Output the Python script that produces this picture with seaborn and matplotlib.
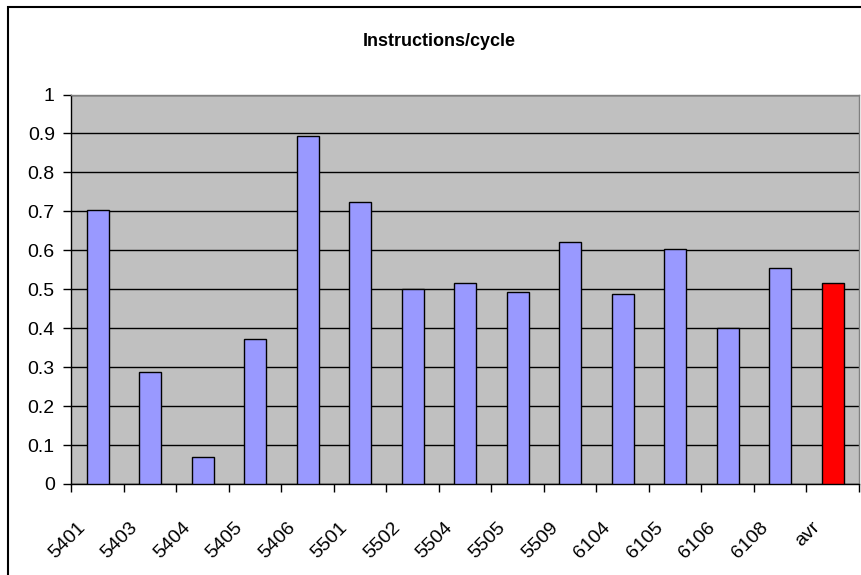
import matplotlib
matplotlib.use("Agg")
import matplotlib.pyplot as plt
import matplotlib.transforms as mtransforms
import seaborn as sns
import pandas as pd
from matplotlib.patches import Rectangle

# %%
benchmarks = ["5401", "5403", "5404", "5405", "5406", "5501", "5502", "5504",
              "5505", "5509", "6104", "6105", "6106", "6108", "avr"]
ipc = [0.704, 0.287, 0.069, 0.373, 0.894, 0.724, 0.501, 0.516,
       0.493, 0.621, 0.489, 0.604, 0.400, 0.555, 0.516]
bar_colors = ["#9999FF"] * 14 + ["#FF0000"]
y_ticks = [0, 0.1, 0.2, 0.3, 0.4, 0.5, 0.6, 0.7, 0.8, 0.9, 1]
y_labels = ["0", "0.1", "0.2", "0.3", "0.4", "0.5", "0.6", "0.7", "0.8", "0.9", "1"]

df = pd.DataFrame({"bench": benchmarks, "ipc": ipc})

# %%
plt.rcParams["font.family"] = ["Liberation Sans", "DejaVu Sans"]

fig = plt.figure(figsize=(8.62, 5.75), dpi=100)
ax = fig.add_axes([71.5 / 862, 1 - 484 / 575, (859 - 71.5) / 862, (484 - 94.5) / 575])
ax.set_facecolor("#C0C0C0")

sns.barplot(data=df, x="bench", y="ipc", hue="bench", palette=bar_colors,
            legend=False, width=0.42, edgecolor="black", linewidth=1.0,
            saturation=1, ax=ax, zorder=3)

ax.set_ylim(0, 1)
ax.set_xlim(-0.5, len(benchmarks) - 0.5)
ax.set_yticks(y_ticks)
ax.set_yticklabels(y_labels, fontsize=14)
ax.yaxis.grid(True, color="black", linewidth=1.0, zorder=1)
ax.set_axisbelow(True)

# category labels at the centres, tick marks at the boundaries
ax.set_xticks(range(len(benchmarks)))
ax.set_xticklabels(benchmarks, fontsize=14, rotation=45, ha="right",
                   va="top", rotation_mode="anchor")
ax.set_xticks([i - 0.5 for i in range(len(benchmarks) + 1)], minor=True)
ax.tick_params(axis="x", which="major", length=0, pad=25)
ax.tick_params(axis="x", which="minor", length=6, width=1, direction="out")
ax.tick_params(axis="y", length=6, width=1, direction="out", pad=6)
shift = mtransforms.ScaledTranslation(-21 / 100, 0, fig.dpi_scale_trans)
for lab in ax.get_xticklabels():
    lab.set_transform(lab.get_transform() + shift)

ax.set_xlabel("")
ax.set_ylabel("")
for side in ["left", "bottom"]:
    ax.spines[side].set_color("black")
    ax.spines[side].set_linewidth(1.0)
for side in ["top", "right"]:
    ax.spines[side].set_color("#808080")
    ax.spines[side].set_linewidth(1.0)

fig.text(439 / 862, 1 - 41 / 575, "Instructions/cycle", ha="center", va="center",
         fontsize=13, fontweight="bold")

# chart border
fig.patches.append(Rectangle((8 / 862, -0.05), 1.1, 1.05 - 7 / 575,
                             transform=fig.transFigure, fill=False,
                             edgecolor="black", linewidth=1.5))

fig.savefig("out.png", dpi=100)
